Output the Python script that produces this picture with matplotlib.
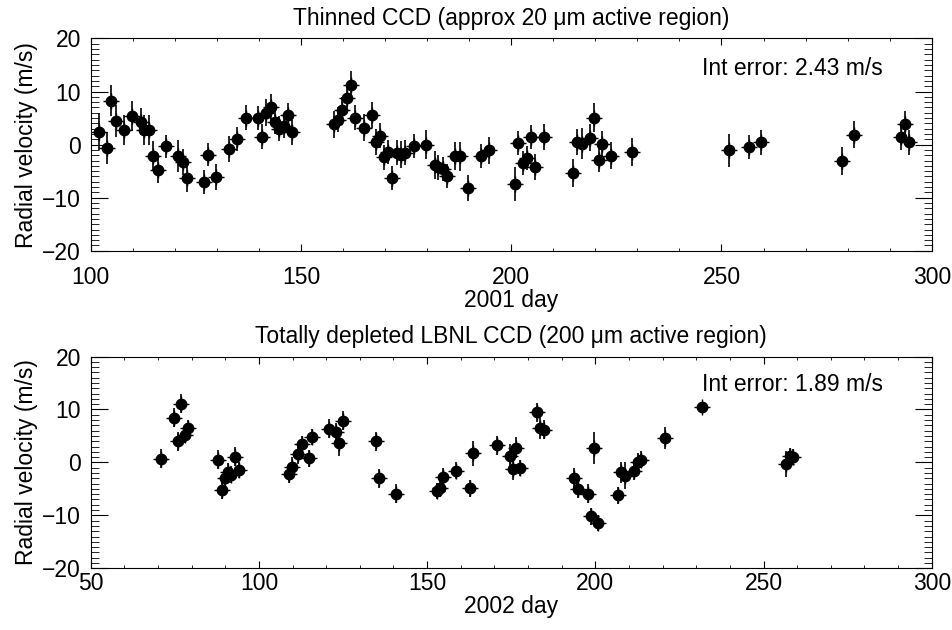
import numpy as np
import matplotlib
matplotlib.use("Agg")
import matplotlib.pyplot as plt
from matplotlib.ticker import MultipleLocator

# 2001, thinned CCD
day01 = [101.9, 103.9, 104.9, 105.9, 108.0, 109.9, 111.9, 112.7, 113.9, 114.8,
         115.9, 117.9, 120.8, 121.9, 122.9, 126.9, 127.9, 129.9, 132.8, 134.8,
         136.9, 139.8, 140.8, 141.8, 142.8, 143.8, 144.8, 145.9, 146.9, 147.8,
         157.9, 158.8, 159.8, 160.9, 161.8, 162.8, 164.9, 166.9, 167.9, 168.7,
         169.8, 170.8, 171.7, 172.8, 173.8, 174.8, 176.8, 179.8, 181.8, 182.7,
         183.7, 184.8, 186.7, 187.7, 189.8, 192.7, 194.7, 200.8, 201.7, 202.7,
         203.7, 204.8, 205.7, 207.8, 214.8, 215.7, 216.8, 218.7, 219.7, 220.8,
         221.7, 223.8, 228.7, 251.7, 256.6, 259.5, 278.7, 281.6, 292.6, 293.6,
         294.6]
rv01 = [2.4, -0.6, 8.3, 4.5, 2.8, 5.4, 4.3, 2.8, 2.7, -2.2,
        -4.7, -0.3, -2.2, -3.3, -6.3, -7.0, -1.9, -6.1, -0.8, 1.0,
        5.1, 5.0, 1.5, 6.0, 7.0, 4.3, 3.0, 3.5, 5.6, 2.4,
        3.8, 4.7, 6.6, 8.7, 11.3, 5.1, 3.2, 5.6, 0.5, 1.7,
        -2.4, -1.4, -6.3, -1.5, -1.9, -1.5, -0.3, 0.0, -3.8, -4.3,
        -4.6, -5.9, -2.2, -2.2, -8.2, -2.2, -1.1, -7.5, 0.3, -3.5,
        -2.5, 1.4, -4.2, 1.4, -5.4, 0.5, 0.2, 1.3, 5.1, -2.9,
        0.2, -2.1, -1.4, -1.1, -0.5, 0.4, -3.1, 1.9, 1.4, 3.8,
        0.4]
err01 = [3.5, 3.0, 3.0, 3.0, 2.8, 2.8, 2.5, 2.8, 2.8, 2.8,
         2.6, 2.2, 3.0, 2.5, 2.6, 2.3, 2.2, 2.5, 2.5, 2.3,
         2.4, 2.3, 2.3, 2.5, 2.5, 2.3, 2.3, 2.3, 2.3, 2.5,
         2.6, 2.3, 2.3, 2.3, 2.5, 2.4, 2.5, 2.4, 2.4, 2.4,
         2.3, 2.3, 2.2, 2.4, 2.6, 2.3, 2.3, 2.7, 2.6, 2.3,
         2.3, 2.2, 2.6, 2.7, 2.4, 2.3, 2.5, 3.2, 2.3, 2.3,
         2.3, 2.3, 2.4, 2.4, 2.6, 2.4, 3.0, 2.5, 2.8, 2.3,
         2.3, 2.5, 2.6, 3.1, 2.3, 2.3, 2.6, 2.6, 2.4, 2.5,
         2.4]

# 2002, LBNL CCD
day02 = [70.8, 74.9, 75.8, 76.9, 77.9, 78.8, 87.9, 89.0, 89.8, 90.8,
         91.8, 92.8, 94.0, 108.9, 109.9, 111.5, 112.9, 114.8, 115.9, 120.8,
         122.8, 123.8, 124.9, 134.8, 135.8, 140.8, 152.8, 153.7, 154.7, 158.7,
         162.7, 163.7, 170.8, 174.7, 175.6, 176.5, 177.6, 182.7, 183.7, 184.7,
         193.8, 194.8, 197.7, 198.7, 199.7, 200.7, 206.6, 207.6, 208.9, 211.6,
         212.6, 213.6, 220.6, 231.7, 256.6, 257.8, 258.8]
rv02 = [0.7, 8.4, 4.0, 11.1, 5.1, 6.5, 0.5, -5.3, -3.0, -1.8,
        -2.3, 1.1, -1.5, -2.1, -0.8, 1.5, 3.5, 0.8, 4.8, 6.4,
        5.7, 3.7, 7.9, 4.0, -3.0, -5.9, -5.4, -4.9, -2.8, -1.6,
        -4.9, 1.7, 3.2, 1.3, -1.3, 2.8, -1.1, 9.5, 6.5, 6.2,
        -3.0, -5.0, -5.9, -10.2, 2.7, -11.4, -6.2, -1.9, -2.5, -1.6,
        0.1, 0.5, 4.6, 10.4, -0.3, 1.3, 1.1]
err02 = [1.8, 1.8, 1.8, 1.8, 1.5, 1.5, 1.8, 1.6, 1.8, 1.6,
         1.6, 1.8, 1.5, 1.8, 1.8, 1.8, 1.5, 1.6, 1.6, 1.8,
         1.8, 2.4, 1.8, 1.8, 1.8, 1.8, 1.6, 1.6, 1.8, 1.6,
         1.6, 2.4, 1.8, 2.2, 2.0, 2.0, 1.5, 1.8, 2.0, 1.8,
         2.0, 1.8, 1.8, 1.6, 3.0, 1.5, 1.6, 2.0, 2.6, 1.8,
         1.6, 1.6, 2.0, 0.5, 2.4, 1.5, 1.5]

plt.rcParams['font.family'] = ['Liberation Sans', 'DejaVu Sans']
plt.rcParams['font.size'] = 16.5

fig = plt.figure(figsize=(9.52, 6.3), dpi=100)
ax1 = fig.add_axes([0.0953, 0.602, 0.8834, 0.337])
ax2 = fig.add_axes([0.0953, 0.098, 0.8834, 0.336])

panels = [
    (ax1, day01, rv01, err01, (100, 300), "2001 day",
     "Thinned CCD (approx 20 \u03bcm active region)", "Int error: 2.43 m/s", 0.827, 11),
    (ax2, day02, rv02, err02, (50, 300), "2002 day",
     "Totally depleted LBNL CCD (200 \u03bcm active region)", "Int error: 1.89 m/s", 0.839, 3),
]

for ax, d, v, e, xl, xlab, title, note, ny, xpad in panels:
    ax.errorbar(d, v, yerr=e, xerr=0.5, fmt='o', color='black', ms=7.5,
                elinewidth=1.2, capsize=0)
    ax.plot(d, v, '+', color='black', ms=12, mew=1.0)
    ax.set_xlim(*xl)
    ax.set_ylim(-20, 20)
    ax.xaxis.set_major_locator(MultipleLocator(50))
    ax.xaxis.set_minor_locator(MultipleLocator(10))
    ax.yaxis.set_major_locator(MultipleLocator(10))
    ax.yaxis.set_minor_locator(MultipleLocator(1))
    ax.tick_params(which='both', direction='in', top=True, right=True)
    ax.tick_params(which='major', axis='y', length=12, pad=7)
    ax.tick_params(which='minor', axis='y', length=6)
    ax.tick_params(which='major', axis='x', length=5, pad=xpad)
    ax.tick_params(which='minor', axis='x', length=2.5)
    ax.set_xlabel(xlab, labelpad=0)
    ax.set_ylabel("Radial velocity (m/s)", labelpad=3)
    ax.set_title(title, fontsize=16.5, pad=10)
    ax.text(0.942, ny, note, transform=ax.transAxes, ha='right', va='baseline')

fig.savefig("out.png", dpi=100)
